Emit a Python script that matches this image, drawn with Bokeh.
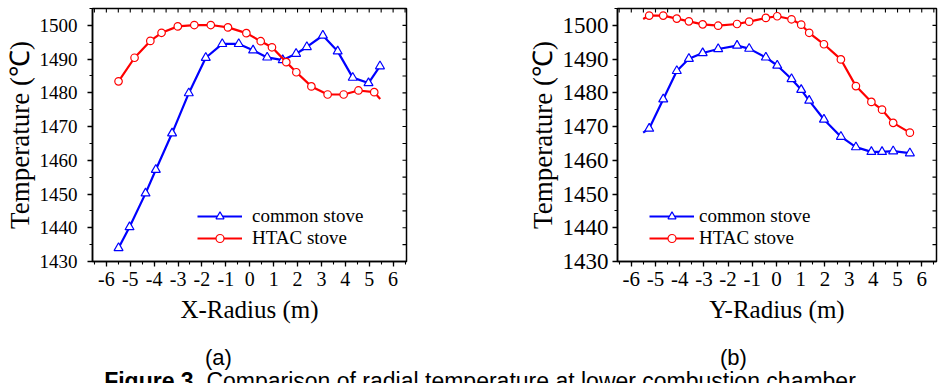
import math
from bokeh.plotting import figure
from bokeh.models import (Range1d, SingleIntervalTicker, Legend, LegendItem, Div)
from bokeh.layouts import row, column
from bokeh.embed import file_html
from bokeh.resources import INLINE

# ---------------- data ----------------
# Panel (a): X-Radius
a_common_x = [-5.49, -5.03, -4.36, -3.93, -3.25, -2.55, -1.84, -1.15, -0.46, 0.14,
              0.73, 1.38, 1.94, 2.39, 3.06, 3.68, 4.31, 4.97, 5.45]
a_common_T = [1434.0, 1440.2, 1450.2, 1457.2, 1468.0, 1479.9, 1490.4, 1494.5, 1494.5, 1492.6,
              1490.5, 1489.7, 1491.6, 1493.6, 1497.0, 1492.3, 1484.5, 1482.9, 1487.9]
a_htac_x = [-5.49, -4.82, -4.16, -3.69, -3.01, -2.32, -1.63, -0.91, -0.14, 0.46,
            0.93, 1.53, 1.95, 2.58, 3.26, 3.93, 4.55, 5.21]
a_htac_T = [1483.4, 1490.4, 1495.4, 1497.8, 1499.7, 1500.1, 1500.1, 1499.4, 1497.7, 1495.3,
            1493.5, 1489.1, 1486.1, 1481.9, 1479.5, 1479.5, 1480.7, 1480.2]
a_htac_tail_x = [5.46]          # curve continues past the last marker
a_htac_tail_T = [1478.2]

# Panel (b): Y-Radius
b_x = [-5.26, -4.68, -4.12, -3.62, -3.05, -2.41, -1.63, -1.13, -0.44, 0.03,
       0.62, 1.02, 1.35, 1.96, 2.66, 3.28, 3.92, 4.36, 4.82, 5.51]
b_common_T = [1469.4, 1478.1, 1486.5, 1490.1, 1491.8, 1493.0, 1494.0, 1493.1, 1490.5, 1488.1,
              1484.1, 1480.9, 1477.7, 1472.1, 1467.0, 1463.9, 1462.5, 1462.5, 1462.7, 1462.1]
b_htac_T = [1502.9, 1502.9, 1502.0, 1501.2, 1500.3, 1499.9, 1500.4, 1501.1, 1502.2, 1502.7,
            1501.8, 1500.2, 1497.8, 1494.4, 1489.9, 1482.0, 1477.3, 1475.0, 1471.1, 1468.2]
b_head_x = [-5.51]              # curves start just before the first marker
b_common_head_T = [1468.2]
b_htac_head_T = [1501.9]

# axes / text
x_ticks = [-6, -5, -4, -3, -2, -1, 0, 1, 2, 3, 4, 5, 6]
x_tick_labels = ["-6", "-5", "-4", "-3", "-2", "-1", "0", "1", "2", "3", "4", "5", "6"]
y_min, y_max = 1430, 1505
x_mirror_ticks = [t / 2 for t in range(-13, 14)]      # frame ticks on top edge
y_mirror_ticks = [1430, 1435, 1440, 1445, 1450, 1455, 1460, 1465, 1470,
                  1475, 1480, 1485, 1490, 1495, 1500, 1505]
series_names = ["common stove", "HTAC stove"]
x_labels = ["X-Radius (m)", "Y-Radius (m)"]
y_label = "Temperature (\u2103)"
panel_tags = ["(a)", "(b)"]
caption_bold = "Figure 3."
caption_rest = "Comparison of radial temperature at lower combustion chamber"

BLUE = "#0000ff"
RED = "#ff0000"
SERIF = "Liberation Serif"
H = 336


def make_panel(cx, cT, hx, hT, xlabel, width, bl, br, xr, ytick_font, xtick_font,
               tick_standoff, legend_loc, legend_standoff):
    p = figure(width=width, height=H, output_backend="svg", toolbar_location=None,
               x_range=Range1d(*xr), y_range=Range1d(y_min, y_max),
               min_border_left=bl, min_border_right=br, min_border_top=8,
               min_border_bottom=H - 261, background_fill_color="white",
               border_fill_color="white")
    p.grid.visible = False
    p.outline_line_color = "black"
    p.outline_line_width = 1.5

    p.xaxis.ticker = SingleIntervalTicker(interval=1, num_minor_ticks=2)
    p.yaxis.ticker = SingleIntervalTicker(interval=10, num_minor_ticks=2)
    p.xaxis.major_label_overrides = dict(zip(x_ticks, x_tick_labels))
    for ax in (p.xaxis[0], p.yaxis[0]):
        ax.axis_line_color = "black"
        ax.axis_line_width = 1.5
        ax.major_tick_line_color = "black"
        ax.minor_tick_line_color = "black"
        ax.major_tick_line_width = 1.3
        ax.minor_tick_line_width = 1.1
        ax.major_tick_out = 5
        ax.major_tick_in = 0
        ax.minor_tick_out = 3
        ax.minor_tick_in = 0
        ax.major_label_text_font = SERIF
        ax.major_label_text_color = "black"
        ax.axis_label_text_font = SERIF
        ax.axis_label_text_font_style = "normal"
        ax.axis_label_text_color = "black"
    p.xaxis.major_label_text_font_size = xtick_font
    p.yaxis.major_label_text_font_size = ytick_font
    p.xaxis.major_label_standoff = 5
    p.yaxis.major_label_standoff = tick_standoff
    p.xaxis.axis_label = xlabel
    p.xaxis.axis_label_text_font_size = "25px"
    p.xaxis.axis_label_standoff = 7
    p.yaxis.axis_label = y_label
    p.yaxis.axis_label_text_font_size = "27px"
    p.yaxis.axis_label_standoff = 2

    # mirrored frame ticks on the top and right edges (clipped to the frame -> inward ticks)
    p.scatter(x_mirror_ticks, [y_max] * len(x_mirror_ticks), marker="dash", size=8,
              angle=math.pi / 2, line_color="black", line_width=1.1)
    p.scatter([xr[1]] * len(y_mirror_ticks), y_mirror_ticks, marker="dash", size=8,
              line_color="black", line_width=1.1)

    lc = p.line(cx[0], cT[0], line_color=BLUE, line_width=2.2)
    sc = p.scatter(cx[1], cT[1], marker="triangle", size=9, fill_color="white",
                   line_color=BLUE, line_width=1.2)
    lh = p.line(hx[0], hT[0], line_color=RED, line_width=2.2)
    sh = p.scatter(hx[1], hT[1], marker="circle", size=7.5, fill_color="white",
                   line_color=RED, line_width=1.2)

    legend = Legend(items=[LegendItem(label=series_names[0], renderers=[lc, sc]),
                           LegendItem(label=series_names[1], renderers=[lh, sh])],
                    location=legend_loc, orientation="vertical",
                    background_fill_alpha=0, border_line_alpha=0,
                    padding=0, margin=0, spacing=0,
                    glyph_width=45, glyph_height=20, label_height=20,
                    label_standoff=legend_standoff,
                    label_text_font=SERIF, label_text_font_size="19px",
                    label_text_color="black")
    p.add_layout(legend)
    return p


pa = make_panel((a_common_x, a_common_x), (a_common_T, a_common_T),
                (a_htac_x + a_htac_tail_x, a_htac_x), (a_htac_T + a_htac_tail_T, a_htac_T),
                x_labels[0], width=470, bl=92, br=64, xr=(-6.58, 6.56),
                ytick_font="19px", xtick_font="20px", tick_standoff=10,
                legend_loc=(105, 12), legend_standoff=10)
pb = make_panel((b_head_x + b_x, b_x), (b_common_head_T + b_common_T, b_common_T),
                (b_head_x + b_x, b_x), (b_htac_head_T + b_htac_T, b_htac_T),
                x_labels[1], width=475, bl=147, br=9, xr=(-6.57, 6.61),
                ytick_font="23px", xtick_font="21px", tick_standoff=4,
                legend_loc=(32, 12), legend_standoff=5)

FONT = "font-family: 'Liberation Sans', Arial, sans-serif; color: #000; white-space: nowrap;"
footer_html = (
    '<div style="position: relative; width: 945px; height: 47px; overflow: hidden;">'
    '<span style="position: absolute; left: 200px; top: 6px; font-size: 22px; line-height: 22px; ' + FONT + '">'
    + panel_tags[0] + '</span>'
    '<span style="position: absolute; left: 715px; top: 6px; font-size: 22px; line-height: 22px; ' + FONT + '">'
    + panel_tags[1] + '</span>'
    '<div style="position: absolute; left: 0px; top: 29px; width: 950px; text-align: center; '
    'font-size: 23px; line-height: 23px; ' + FONT + '">'
    '<b>' + caption_bold + '</b> ' + caption_rest + '</div>'
    '</div>')
footer = Div(text=footer_html, width=945, height=47, styles={"overflow": "hidden"})

layout = column(row(pa, pb), footer)
open("out.html", "w").write(file_html(layout, INLINE))
